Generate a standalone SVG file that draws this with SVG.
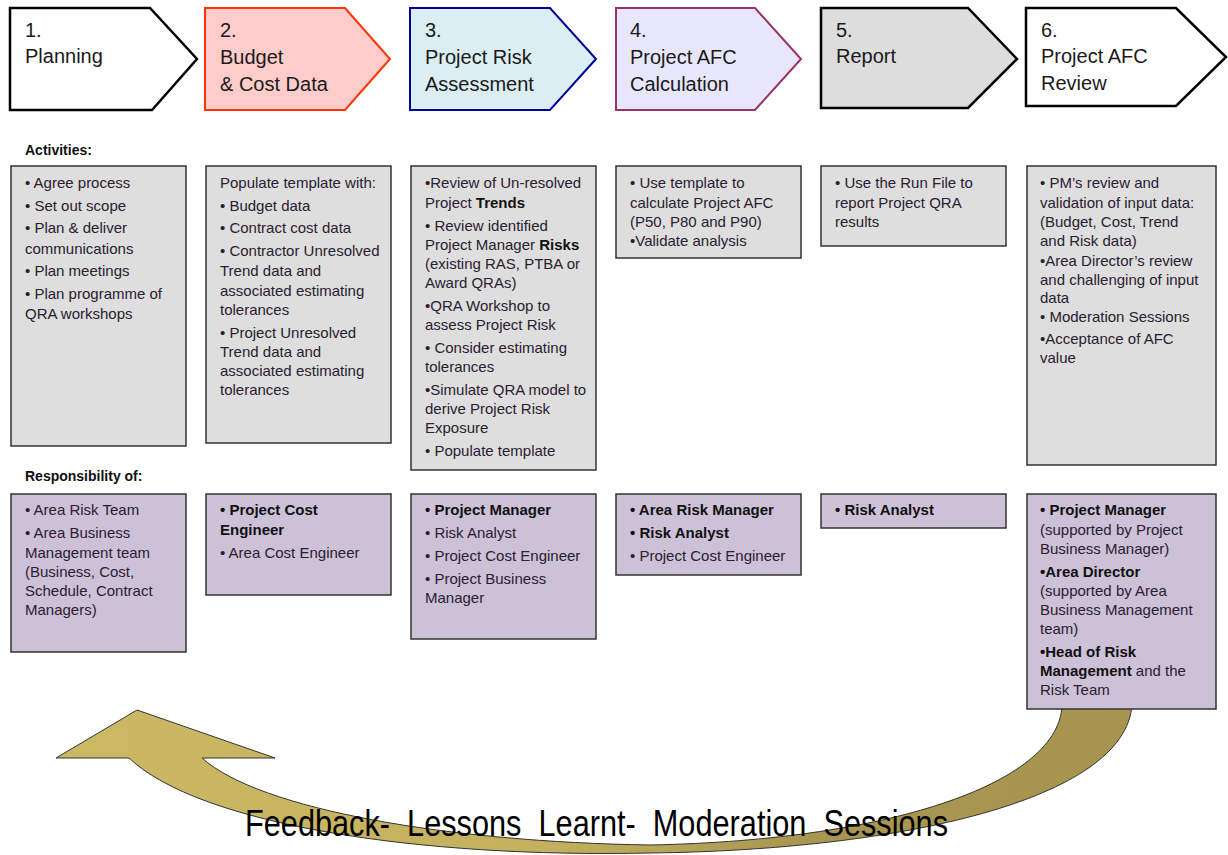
<svg xmlns="http://www.w3.org/2000/svg" width="1228" height="855" viewBox="0 0 1228 855">
<style>
text{font-family:"Liberation Sans",Arial,sans-serif;}
.hd{font-size:20px;fill:#1a1a1a;}
.lbl{font-size:14px;font-weight:bold;fill:#111;}
.tx{font-size:15px;fill:#2a2030;}
.b{font-weight:bold;fill:#111;}
.act{fill:#dedede;stroke:#333;stroke-width:1.5;}
.rsp{fill:#cdc1d8;stroke:#333;stroke-width:1.5;}
.fb{font-size:36px;fill:#000;font-family:"Liberation Sans Narrow","Liberation Sans",Arial,sans-serif;}
</style>
<defs>
<linearGradient id="arrowGrad" gradientUnits="userSpaceOnUse" x1="56" y1="0" x2="1132" y2="0">
<stop offset="0" stop-color="#ccb964"/>
<stop offset="0.45" stop-color="#c4b15e"/>
<stop offset="0.7" stop-color="#a89651"/>
<stop offset="1" stop-color="#a6944f"/>
</linearGradient>
</defs>
<rect width="1228" height="855" fill="#fff"/>

<g id="connectors">
<path d="M1132,705 C1125,800 900,850 650,853 C420,858 200,825 129,758 L56,758 L137,710 L275,758 L202,758 C260,810 450,842 650,845 C900,840 1060,780 1062,705 Z" fill="url(#arrowGrad)" stroke="#333" stroke-width="1"/>
</g>

<g id="step1">
<polygon points="10,8 150,8 197,59 152,110 10,110" fill="#fff" stroke="#000" stroke-width="2.5"/>
<text class="hd" x="25" y="37">1.</text>
<text class="hd" x="25" y="63">Planning</text>
</g>
<g id="step2">
<polygon points="205,8 345,8 390,59 345,110 205,110" fill="#ffcccc" stroke="#ff3300" stroke-width="2"/>
<text class="hd" x="220" y="37">2.</text>
<text class="hd" x="220" y="64">Budget</text>
<text class="hd" x="220" y="91">&amp; Cost Data</text>
</g>
<g id="step3">
<polygon points="410,8 550,8 596,59 550,110 410,110" fill="#daeef3" stroke="#000099" stroke-width="2"/>
<text class="hd" x="425" y="37">3.</text>
<text class="hd" x="425" y="64">Project Risk</text>
<text class="hd" x="425" y="91">Assessment</text>
</g>
<g id="step4">
<polygon points="616,8 755,8 801,59 755,110 616,110" fill="#e8e6fa" stroke="#993366" stroke-width="2"/>
<text class="hd" x="630" y="37">4.</text>
<text class="hd" x="630" y="64">Project AFC</text>
<text class="hd" x="630" y="91">Calculation</text>
</g>
<g id="step5">
<polygon points="821,8 968,8 1017,59 968,108 821,108" fill="#dddddd" stroke="#000" stroke-width="2.5"/>
<text class="hd" x="836" y="37">5.</text>
<text class="hd" x="836" y="63">Report</text>
</g>
<g id="step6">
<polygon points="1026,8 1176,8 1226,57 1176,106 1026,106" fill="#fff" stroke="#000" stroke-width="2.5"/>
<text class="hd" x="1041" y="37">6.</text>
<text class="hd" x="1041" y="63">Project AFC</text>
<text class="hd" x="1041" y="90">Review</text>
</g>

<text class="lbl" x="25" y="155">Activities:</text>
<text class="lbl" x="25" y="481">Responsibility of:</text>

<g id="act1">
<rect class="act" x="11" y="166" width="175" height="280"/>
<text class="tx" x="25" y="188">• Agree process</text>
<text class="tx" x="25" y="211">• Set out scope</text>
<text class="tx" x="25" y="233">• Plan &amp; deliver</text>
<text class="tx" x="25" y="254">communications</text>
<text class="tx" x="25" y="276">• Plan meetings</text>
<text class="tx" x="25" y="299">• Plan programme of</text>
<text class="tx" x="25" y="319">QRA workshops</text>
</g>
<g id="act2">
<rect class="act" x="206" y="166" width="185" height="277"/>
<text class="tx" x="220" y="188">Populate template with:</text>
<text class="tx" x="220" y="211">• Budget data</text>
<text class="tx" x="220" y="233">• Contract cost data</text>
<text class="tx" x="220" y="256">• Contractor Unresolved</text>
<text class="tx" x="220" y="276">Trend data and</text>
<text class="tx" x="220" y="296">associated estimating</text>
<text class="tx" x="220" y="315">tolerances</text>
<text class="tx" x="220" y="338">• Project Unresolved</text>
<text class="tx" x="220" y="357">Trend data and</text>
<text class="tx" x="220" y="376">associated estimating</text>
<text class="tx" x="220" y="395">tolerances</text>
</g>
<g id="act3">
<rect class="act" x="411" y="166" width="185" height="304"/>
<text class="tx" x="425" y="188">•Review of Un-resolved</text>
<text class="tx" x="425" y="208">Project <tspan class="b">Trends</tspan></text>
<text class="tx" x="425" y="231">• Review identified</text>
<text class="tx" x="425" y="250">Project Manager <tspan class="b">Risks</tspan></text>
<text class="tx" x="425" y="269">(existing RAS, PTBA or</text>
<text class="tx" x="425" y="288">Award QRAs)</text>
<text class="tx" x="425" y="311">•QRA Workshop to</text>
<text class="tx" x="425" y="330">assess Project Risk</text>
<text class="tx" x="425" y="353">• Consider estimating</text>
<text class="tx" x="425" y="372">tolerances</text>
<text class="tx" x="425" y="395">•Simulate QRA model to</text>
<text class="tx" x="425" y="414">derive Project Risk</text>
<text class="tx" x="425" y="433">Exposure</text>
<text class="tx" x="425" y="456">• Populate template</text>
</g>
<g id="act4">
<rect class="act" x="616" y="166" width="185" height="92"/>
<text class="tx" x="630" y="188">• Use template to</text>
<text class="tx" x="630" y="208">calculate Project AFC</text>
<text class="tx" x="630" y="227">(P50, P80 and P90)</text>
<text class="tx" x="630" y="246">•Validate analysis</text>
</g>
<g id="act5">
<rect class="act" x="821" y="166" width="185" height="80"/>
<text class="tx" x="835" y="188">• Use the Run File to</text>
<text class="tx" x="835" y="208">report Project QRA</text>
<text class="tx" x="835" y="227">results</text>
</g>
<g id="act6">
<rect class="act" x="1027" y="166" width="189" height="299"/>
<text class="tx" x="1040" y="188">• PM’s review and</text>
<text class="tx" x="1040" y="208">validation of input data:</text>
<text class="tx" x="1040" y="227">(Budget, Cost, Trend</text>
<text class="tx" x="1040" y="246">and Risk data)</text>
<text class="tx" x="1040" y="266">•Area Director’s review</text>
<text class="tx" x="1040" y="285">and challenging of input</text>
<text class="tx" x="1040" y="303">data</text>
<text class="tx" x="1040" y="322">• Moderation Sessions</text>
<text class="tx" x="1040" y="344">•Acceptance of AFC</text>
<text class="tx" x="1040" y="363">value</text>
</g>

<g id="resp1">
<rect class="rsp" x="11" y="494" width="175" height="158"/>
<text class="tx" x="25" y="515">• Area Risk Team</text>
<text class="tx" x="25" y="538">• Area Business</text>
<text class="tx" x="25" y="558">Management team</text>
<text class="tx" x="25" y="577">(Business, Cost,</text>
<text class="tx" x="25" y="596">Schedule, Contract</text>
<text class="tx" x="25" y="615">Managers)</text>
</g>
<g id="resp2">
<rect class="rsp" x="206" y="494" width="185" height="101"/>
<text class="tx b" x="220" y="515">• Project Cost</text>
<text class="tx b" x="220" y="535">Engineer</text>
<text class="tx" x="220" y="558">• Area Cost Engineer</text>
</g>
<g id="resp3">
<rect class="rsp" x="411" y="494" width="185" height="145"/>
<text class="tx b" x="425" y="515">• Project Manager</text>
<text class="tx" x="425" y="538">• Risk Analyst</text>
<text class="tx" x="425" y="561">• Project Cost Engineer</text>
<text class="tx" x="425" y="584">• Project Business</text>
<text class="tx" x="425" y="603">Manager</text>
</g>
<g id="resp4">
<rect class="rsp" x="616" y="494" width="185" height="81"/>
<text class="tx b" x="630" y="515">• Area Risk Manager</text>
<text class="tx b" x="630" y="538">• Risk Analyst</text>
<text class="tx" x="630" y="561">• Project Cost Engineer</text>
</g>
<g id="resp5">
<rect class="rsp" x="821" y="494" width="185" height="34"/>
<text class="tx b" x="835" y="515">• Risk Analyst</text>
</g>
<g id="resp6">
<rect class="rsp" x="1027" y="494" width="189" height="215"/>
<text class="tx b" x="1040" y="515">• Project Manager</text>
<text class="tx" x="1040" y="535">(supported by Project</text>
<text class="tx" x="1040" y="554">Business Manager)</text>
<text class="tx b" x="1040" y="577">•Area Director</text>
<text class="tx" x="1040" y="596">(supported by Area</text>
<text class="tx" x="1040" y="615">Business Management</text>
<text class="tx" x="1040" y="634">team)</text>
<text class="tx b" x="1040" y="657">•Head of Risk</text>
<text class="tx" x="1040" y="676"><tspan class="b">Management</tspan>  and the</text>
<text class="tx" x="1040" y="695">Risk Team</text>
</g>

<text class="fb" x="245" y="836" textLength="703" lengthAdjust="spacingAndGlyphs" xml:space="preserve">Feedback-  Lessons  Learnt-  Moderation  Sessions</text>
</svg>
